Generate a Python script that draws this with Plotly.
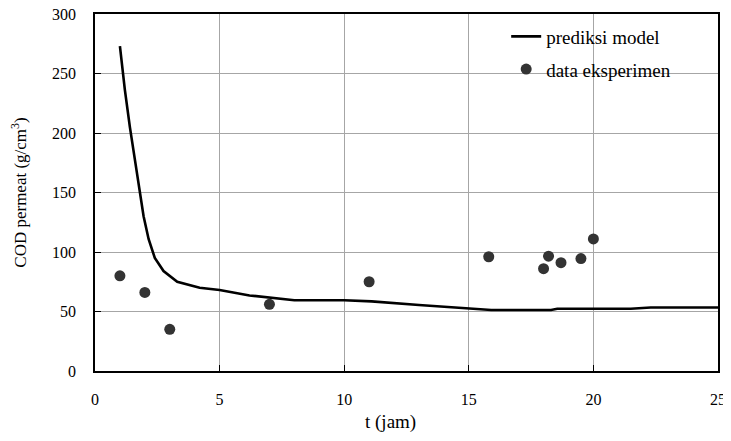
"""
COD permeat: model prediction vs experimental data.
"""
import plotly.graph_objects as go

# model curve
t_model = [1.0, 1.2, 1.4, 1.6, 1.75, 1.95, 2.15, 2.4, 2.75, 3.3, 4.2, 5.0, 6.2, 6.9, 8.0,
           10.0, 11.1, 13.0, 15.1, 15.9, 18.3, 18.55, 21.5, 22.3, 25.3]
cod_model = [273, 236, 205, 177, 155, 130, 111, 95, 84, 75, 70, 68, 63.5, 62, 59.5,
             59.5, 58.5, 55.5, 52.3, 51.3, 51.3, 52.3, 52.3, 53.3, 53.3]

# experimental points
t_exp = [1, 2, 3, 7, 11, 15.8, 18, 18.2, 18.7, 19.5, 20]
cod_exp = [80, 66, 35, 56, 75, 96, 86, 96.5, 91, 94.5, 111]

x_ticks = [0, 5, 10, 15, 20, 25]
y_ticks = [0, 50, 100, 150, 200, 250, 300]

font = "Liberation Serif, Times New Roman, serif"

fig = go.Figure()
fig.add_trace(go.Scatter(x=t_model, y=cod_model, mode="lines", name="prediksi model",
                         line=dict(color="black", width=2.6), legendgroup="a"))
fig.add_trace(go.Scatter(x=t_exp, y=cod_exp, mode="markers", name="data eksperimen",
                         marker=dict(color="#333333", size=11), legendgroup="b"))

axis_common = dict(showline=True, linecolor="black", linewidth=1.5, mirror=True,
                   showgrid=True, gridcolor="#a6a6a6", gridwidth=1,
                   ticks="inside", ticklen=6, tickcolor="black", zeroline=False,
                   automargin=False, ticklabeloverflow="allow",
                   tickfont=dict(family=font, size=16, color="black"))

fig.update_xaxes(range=[0, 25], tickvals=x_ticks, ticklabelstandoff=13, **axis_common)
fig.update_yaxes(range=[0, 300], tickvals=y_ticks, ticklabelstandoff=14,
                 title=dict(text="COD permeat (g/cm<sup>3</sup>)",
                            font=dict(family=font, size=17, color="black"), standoff=21),
                 **axis_common)

# x title sits a bit left of centre in the original
fig.add_annotation(text="t (jam)", xref="paper", yref="paper", x=0.475, y=-0.143,
                   xanchor="center", yanchor="middle", showarrow=False,
                   font=dict(family=font, size=19, color="black"))

# white patch behind the legend, hides the gridlines there
fig.add_shape(type="rect", xref="paper", yref="paper", x0=0.602, x1=0.989, y0=0.801, y1=0.975,
              fillcolor="white", line_width=0, layer="between")

fig.update_layout(
    width=723, height=433,
    margin=dict(l=87, r=13, t=6, b=70),
    paper_bgcolor="white", plot_bgcolor="white",
    font=dict(family=font, size=17, color="black"),
    legend=dict(x=0.66, y=0.99, xanchor="left", yanchor="top",
                bgcolor="rgba(255,255,255,0)", borderwidth=0, tracegroupgap=5,
                font=dict(family=font, size=19, color="black")),
)

fig.write_html("out.html")
